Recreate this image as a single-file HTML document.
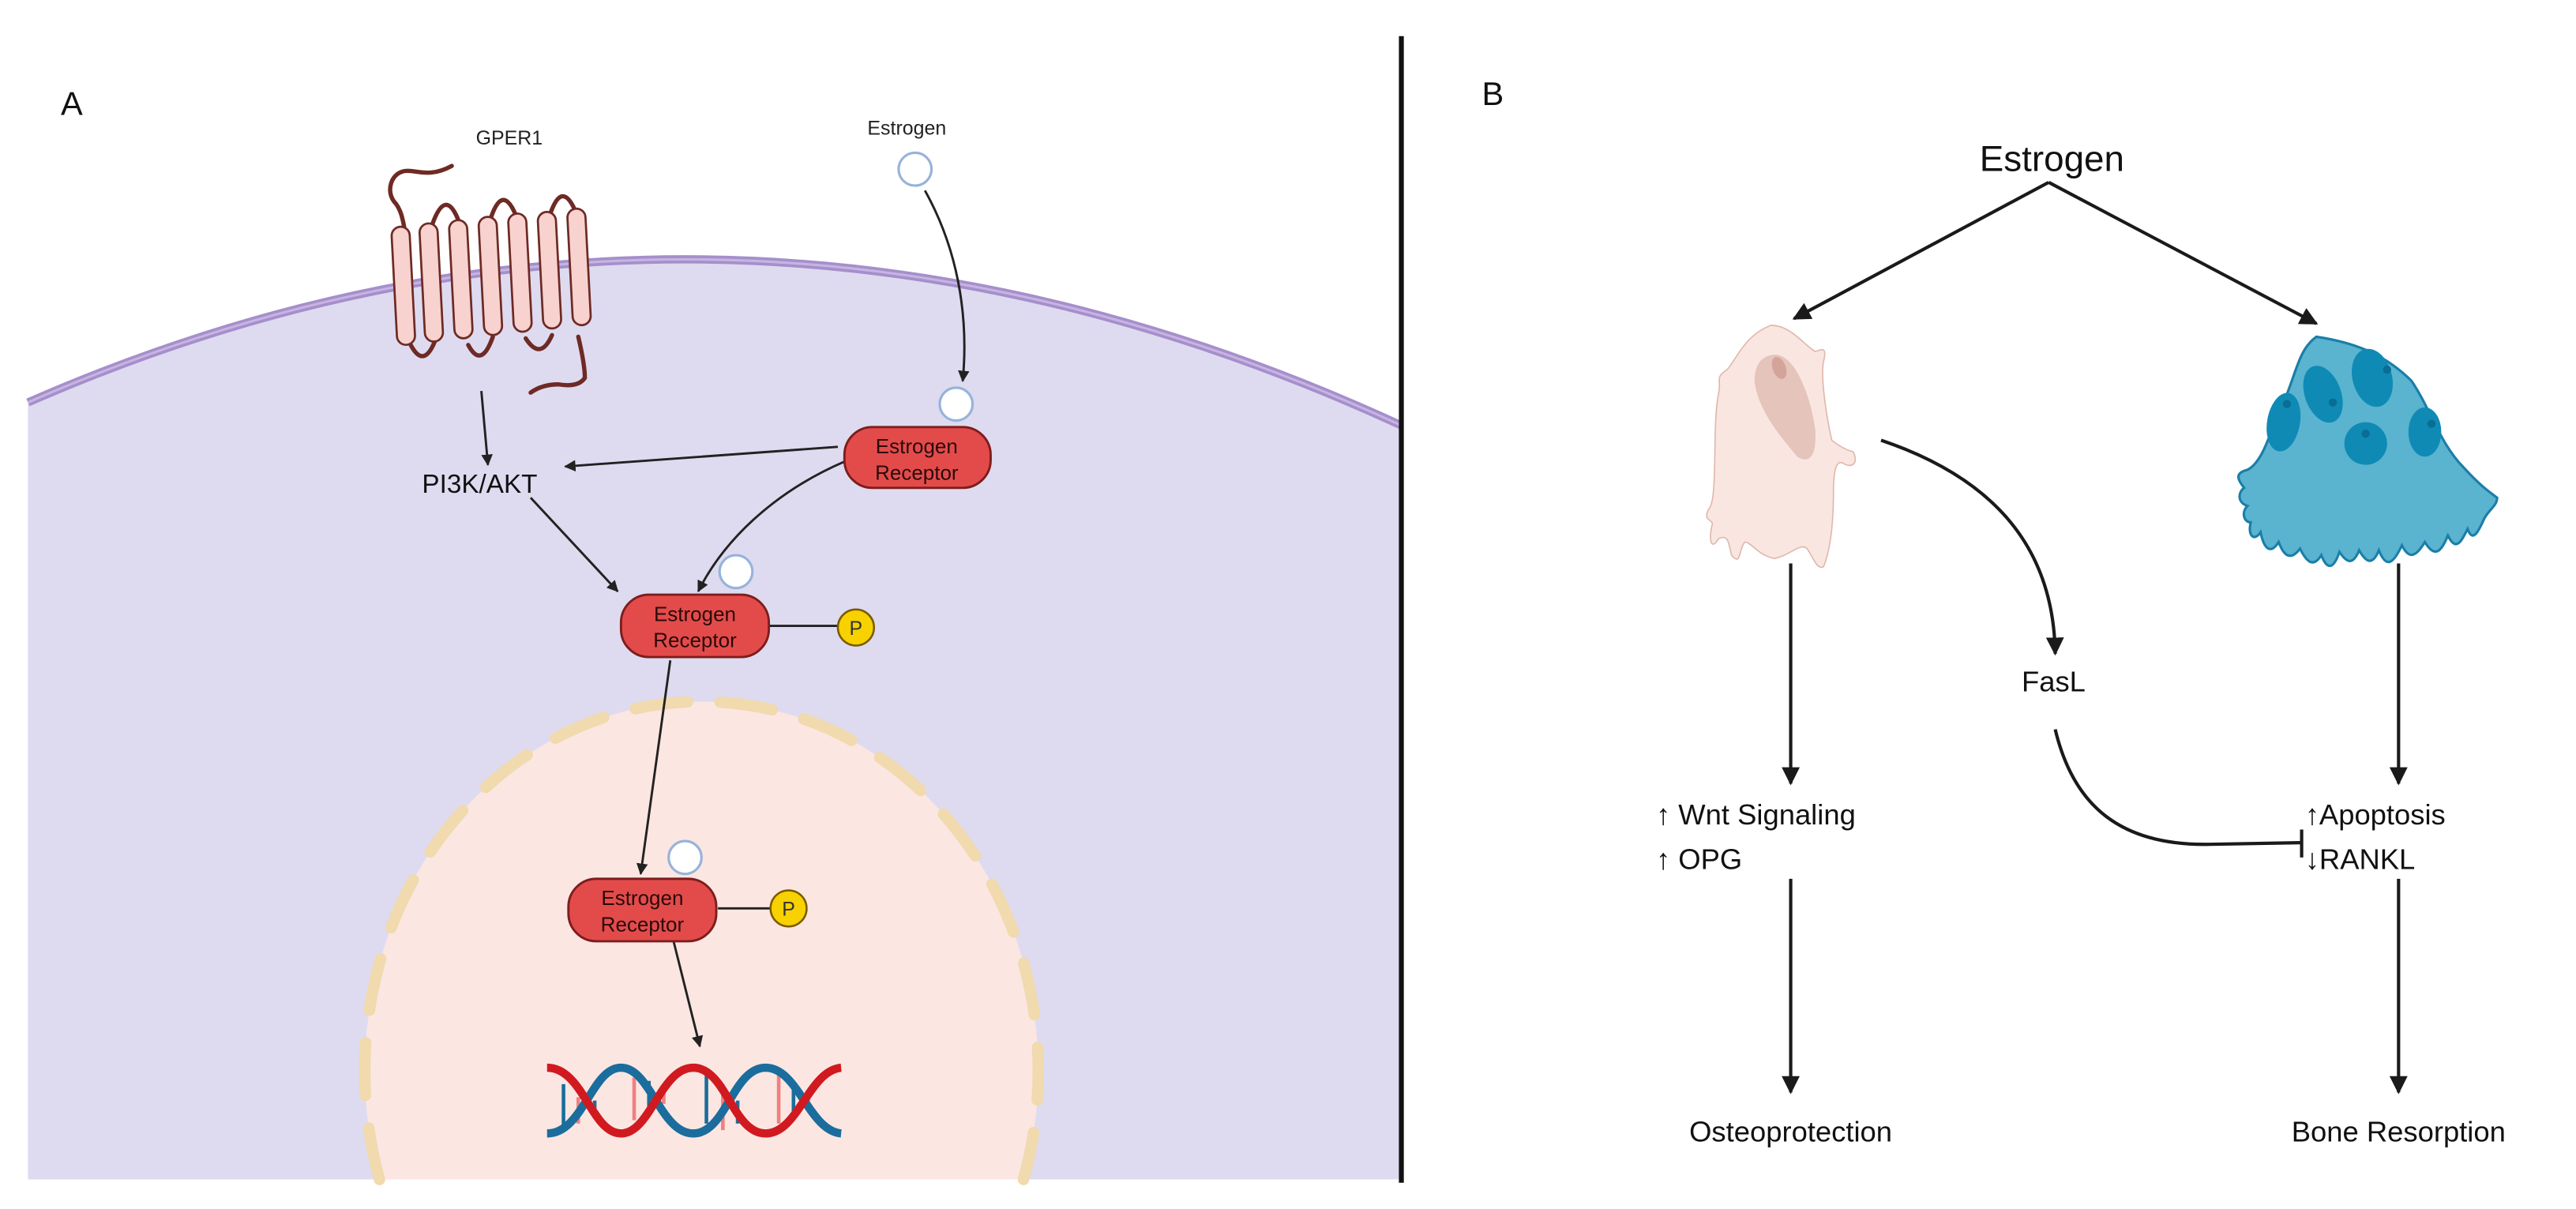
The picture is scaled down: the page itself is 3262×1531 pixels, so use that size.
<!DOCTYPE html>
<html><head><meta charset="utf-8"><style>
html,body{margin:0;padding:0;background:#fff;width:3262px;height:1531px;overflow:hidden;}
svg{display:block;position:absolute;left:0;top:0;}
text{font-family:"Liberation Sans",sans-serif;}
</style></head><body>
<svg width="3262" height="1531" viewBox="0 0 1568 736" preserveAspectRatio="none" xmlns="http://www.w3.org/2000/svg">
<defs>
<marker id="ah" viewBox="0 0 10 10" refX="9" refY="5" markerWidth="7" markerHeight="7" orient="auto" markerUnits="userSpaceOnUse"><path d="M0,0 L10,5 L0,10 z" fill="#222"/></marker>
<marker id="ahb" viewBox="0 0 10 10" refX="9" refY="5" markerWidth="11" markerHeight="11" orient="auto" markerUnits="userSpaceOnUse"><path d="M0,0 L10,5 L0,10 z" fill="#1a1a1a"/></marker>
</defs>
<path d="M17,245 Q430,64 853,259 L853,718 L17,718 Z" fill="#dedbf0"/>
<path d="M17,245 Q430,64 853,259" fill="none" stroke="#a58fcb" stroke-width="5"/>
<path d="M17,245 Q430,64 853,259" fill="none" stroke="#c6b4e2" stroke-width="1.5"/>
<path d="M231,718 A205,225 0 1,1 623,718 Z" fill="#fbe6e2"/>
<path d="M231,718 A205,225 0 1,1 623,718" fill="none" stroke="#f0daae" stroke-width="7" stroke-linecap="round" stroke-dasharray="32 20"/>
<text x="37" y="70" font-size="20" fill="#111">A</text>
<text x="310" y="88" font-size="12" fill="#222" text-anchor="middle">GPER1</text>
<text x="552" y="82" font-size="12" fill="#222" text-anchor="middle">Estrogen</text>
<g stroke="#6e2a24" stroke-width="2.6" fill="none" stroke-linecap="round">
<path d="M275,101 C262,108 255,104 248,104 C238,104 234,117 241,124 C244,128 245,133 246,138"/>
<path d="M250,210 Q258,225 265,207"/>
<path d="M263,137 Q271,114 279,134"/>
<path d="M285,210 Q293,225 300,205"/>
<path d="M299,132 Q306,112 314,131"/>
<path d="M320,206 Q329,220 336,204"/>
<path d="M335,130 Q342,110 350,128"/>
<path d="M352,205 Q356,222 356,230 Q352,236 340,234 Q330,234 323,239"/>
</g>
<g fill="#f7d2cf" stroke="#6e2a24" stroke-width="1.3">
<rect x="240" y="138" width="11" height="72" rx="5.5" transform="rotate(-3 245 174)"/>
<rect x="257" y="136" width="11" height="72" rx="5.5" transform="rotate(-3 262 172)"/>
<rect x="275" y="134" width="11" height="72" rx="5.5" transform="rotate(-3 280 170)"/>
<rect x="293" y="132" width="11" height="72" rx="5.5" transform="rotate(-3 298 168)"/>
<rect x="311" y="130" width="11" height="72" rx="5.5" transform="rotate(-3 316 166)"/>
<rect x="329" y="129" width="11" height="71" rx="5.5" transform="rotate(-3 334 165)"/>
<rect x="347" y="127" width="11" height="71" rx="5.5" transform="rotate(-3 352 163)"/>
</g>
<g stroke="#222" stroke-width="1.4" fill="none">
<path d="M293,238 L297,283" marker-end="url(#ah)"/>
<path d="M563,116 C582,150 590,190 586,232" marker-end="url(#ah)"/>
<path d="M510,272 L344,284" marker-end="url(#ah)"/>
<path d="M514,281 C470,300 440,330 425,360" marker-end="url(#ah)"/>
<path d="M323,303 L376,360" marker-end="url(#ah)"/>
<path d="M408,402 L390,532" marker-end="url(#ah)"/>
<path d="M410,573 L426,637" marker-end="url(#ah)"/>
<path d="M468,381 L510,381"/>
<path d="M437,553 L469,553"/>
</g>
<text x="292" y="300" font-size="16" fill="#111" text-anchor="middle">PI3K/AKT</text>
<g fill="#fff" stroke="#97b3da" stroke-width="1.5">
<circle cx="557" cy="103" r="10"/>
<circle cx="582" cy="246" r="10"/>
<circle cx="448" cy="348" r="10"/>
<circle cx="417" cy="522" r="10"/>
</g>
<g fill="#e34b4b" stroke="#7e1d1d" stroke-width="1.4">
<rect x="514" y="260" width="89" height="37" rx="17"/>
<rect x="378" y="362" width="90" height="38" rx="17"/>
<rect x="346" y="535" width="90" height="38" rx="17"/>
</g>
<g font-size="12.5" fill="#2a0a0a" text-anchor="middle">
<text x="558" y="276">Estrogen</text><text x="558" y="292">Receptor</text>
<text x="423" y="378">Estrogen</text><text x="423" y="394">Receptor</text>
<text x="391" y="551">Estrogen</text><text x="391" y="567">Receptor</text>
</g>
<g fill="#f7d100" stroke="#7a5a00" stroke-width="1.2">
<circle cx="521" cy="382" r="11"/>
<circle cx="480" cy="553" r="11"/>
</g>
<text x="521" y="386.5" font-size="12" text-anchor="middle" fill="#333">P</text>
<text x="480" y="557.5" font-size="12" text-anchor="middle" fill="#333">P</text>
<g stroke-width="2.2">
<line x1="343" y1="660" x2="343" y2="688" stroke="#1a6d9c"/>
<line x1="352" y1="668" x2="352" y2="684" stroke="#f08080"/>
<line x1="362" y1="670" x2="362" y2="680" stroke="#1a6d9c"/>
<line x1="386" y1="656" x2="386" y2="682" stroke="#f08080"/>
<line x1="395" y1="658" x2="395" y2="676" stroke="#1a6d9c"/>
<line x1="404" y1="662" x2="404" y2="672" stroke="#f08080"/>
<line x1="430" y1="652" x2="430" y2="684" stroke="#1a6d9c"/>
<line x1="440" y1="660" x2="440" y2="688" stroke="#f08080"/>
<line x1="449" y1="670" x2="449" y2="684" stroke="#1a6d9c"/>
<line x1="474" y1="654" x2="474" y2="684" stroke="#f08080"/>
<line x1="483" y1="658" x2="483" y2="678" stroke="#1a6d9c"/>
<line x1="492" y1="664" x2="492" y2="674" stroke="#f08080"/>
</g>
<path d="M333,690 C355,690 360,650 378,650 C396,650 402,690 422,690 C442,690 446,650 466,650 C486,650 492,688 512,690" fill="none" stroke="#1a6d9c" stroke-width="5"/>
<path d="M333,650 C355,650 360,690 378,690 C396,690 402,650 422,650 C442,650 446,690 466,690 C486,690 492,652 512,650" fill="none" stroke="#d01a20" stroke-width="5"/>
<line x1="853" y1="22" x2="853" y2="720" stroke="#111" stroke-width="3"/>
<text x="902" y="64" font-size="20" fill="#111">B</text>
<text x="1249" y="104" font-size="22" fill="#111" text-anchor="middle">Estrogen</text>
<g stroke="#1a1a1a" stroke-width="2" fill="none">
<path d="M1247,111 L1092,194" marker-end="url(#ahb)"/>
<path d="M1247,111 L1410,197" marker-end="url(#ahb)"/>
<path d="M1145,268 C1210,290 1250,330 1251,398" marker-end="url(#ahb)"/>
<path d="M1251,444 C1262,490 1290,515 1345,514 L1400,513"/>
<path d="M1401,505 L1401,522"/>
<path d="M1090,343 L1090,477" marker-end="url(#ahb)"/>
<path d="M1090,535 L1090,665" marker-end="url(#ahb)"/>
<path d="M1460,343 L1460,477" marker-end="url(#ahb)"/>
<path d="M1460,535 L1460,665" marker-end="url(#ahb)"/>
</g>
<path d="M1078,198 C1090,198 1098,210 1105,214 C1110,212 1112,212 1110,220 C1108,230 1112,255 1115,268 C1120,272 1124,274 1128,275 C1132,283 1126,285 1122,282 C1118,280 1116,285 1116,300 C1116,320 1114,335 1110,345 C1106,347 1104,340 1100,334 C1096,330 1090,338 1080,340 C1070,338 1066,330 1062,330 C1058,335 1060,345 1054,338 C1052,330 1052,325 1046,328 C1042,335 1040,330 1042,320 C1044,316 1036,318 1040,310 C1046,305 1042,260 1046,240 C1048,232 1044,230 1050,226 C1056,222 1060,205 1078,198 Z" fill="#fae6e0" stroke="#e0b8ac" stroke-width="0.8"/>
<path d="M1079,216 C1092,214 1102,240 1105,262 C1106,280 1100,282 1094,278 C1084,266 1070,250 1068,232 C1068,222 1072,217 1079,216 Z" fill="#e4c4bb"/>
<ellipse cx="1083" cy="224" rx="4" ry="7" fill="#d4a49a" transform="rotate(-20 1083 224)"/>
<path d="M1410,205 C1430,208 1450,214 1468,232 C1480,250 1485,270 1500,285 C1510,296 1516,300 1520,303 C1520,308 1515,310 1512,316 C1508,325 1505,330 1502,322 C1498,330 1495,336 1490,326 C1486,336 1482,340 1476,330 C1470,340 1466,340 1462,332 C1456,345 1452,345 1448,335 C1444,345 1440,342 1436,335 C1432,345 1428,342 1424,336 C1420,348 1416,346 1413,338 C1408,346 1404,342 1400,334 C1394,342 1390,338 1387,330 C1382,338 1378,334 1376,324 C1372,330 1368,326 1370,318 C1366,318 1364,312 1368,308 C1362,306 1362,300 1366,297 C1362,292 1360,288 1368,286 C1380,280 1385,250 1392,240 C1398,225 1400,212 1410,205 Z" fill="#5ab3cf" stroke="#1a7ea8" stroke-width="1.5"/>
<g fill="#0f8ab5">
<ellipse cx="1390" cy="257" rx="10" ry="18" transform="rotate(10 1390 257)"/>
<ellipse cx="1414" cy="240" rx="11" ry="18" transform="rotate(-20 1414 240)"/>
<ellipse cx="1444" cy="230" rx="12" ry="18" transform="rotate(-15 1444 230)"/>
<ellipse cx="1440" cy="270" rx="13" ry="13" transform="rotate(20 1440 270)"/>
<ellipse cx="1476" cy="263" rx="10" ry="15"/>
</g>
<g fill="#0a6d93">
<circle cx="1392" cy="246" r="2.5"/><circle cx="1420" cy="245" r="2.5"/><circle cx="1453" cy="225" r="2.5"/><circle cx="1440" cy="264" r="2.5"/><circle cx="1480" cy="258" r="2.5"/>
</g>
<g font-size="17.5" fill="#111">
<text x="1250" y="421" text-anchor="middle">FasL</text>
<text x="1008" y="502">↑ Wnt Signaling</text>
<text x="1008" y="529">↑ OPG</text>
<text x="1403" y="502">↑Apoptosis</text>
<text x="1403" y="529">↓RANKL</text>
<text x="1090" y="695" text-anchor="middle">Osteoprotection</text>
<text x="1460" y="695" text-anchor="middle">Bone Resorption</text>
</g>
</svg>
</body></html>
